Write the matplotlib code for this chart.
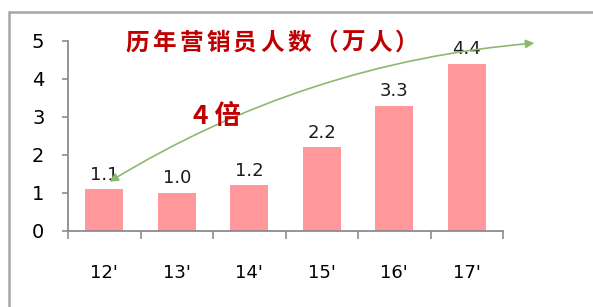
import matplotlib
matplotlib.use("Agg")
import matplotlib.pyplot as plt
from matplotlib.patches import FancyArrowPatch, Rectangle
import numpy as np

plt.rcParams['font.family'] = ['DejaVu Sans', 'Noto Sans CJK SC']

years = ["12'", "13'", "14'", "15'", "16'", "17'"]
agents = [1.1, 1.0, 1.2, 2.2, 3.3, 4.4]
title_text = "历年营销员人数（万人）"
growth_text = "4 倍"

bar_color = '#FF979B'
axis_gray = '#8C8C8C'
red = '#C00000'

fig = plt.figure(figsize=(5.93, 3.07), dpi=100)
ax = fig.add_axes([68 / 593, 1 - 231 / 307, 435 / 593, 190 / 307])

x = np.arange(len(years))
ax.bar(x, agents, width=0.53, color=bar_color, zorder=2)
for xi, v in zip(x, agents):
    ax.annotate(f"{v:.1f}", (xi, v), xytext=(0, 4), textcoords='offset points',
                ha='center', va='bottom', fontsize=13, color='#1a1a1a')

ax.set_xlim(-0.5, len(years) - 0.5)
ax.set_ylim(0, 5)
ax.set_yticks(range(0, 6))
ax.tick_params(axis='y', length=4, width=1.2, color=axis_gray, pad=13, labelsize=14)
ax.set_xticks(x)
ax.set_xticklabels(years)
ax.tick_params(axis='x', which='major', length=0, pad=24, labelsize=13)
ax.set_xticks(np.arange(-0.5, len(years)), minor=True)
ax.tick_params(axis='x', which='minor', length=6, width=1.2, color=axis_gray)
for s in ['top', 'right']:
    ax.spines[s].set_visible(False)
for s in ['left', 'bottom']:
    ax.spines[s].set_color(axis_gray)
    ax.spines[s].set_linewidth(1.3)

# growth arrow from first to last bar
arrow = FancyArrowPatch((0.04, 1.26), (5.97, 4.95), connectionstyle="arc3,rad=-0.12",
                        arrowstyle='<|-|>,head_length=5,head_width=2.5',
                        color='#8DB86E', lw=1.2, clip_on=False, zorder=3)
ax.add_patch(arrow)

# title, spaced out character by character like the original
for i, ch in enumerate(title_text):
    fig.text((137 + i * 27) / 593, 1 - 43 / 307, ch, family=['Noto Sans CJK SC'],
             fontsize=17, fontweight='bold', color=red, ha='center', va='center')
fig.text(193 / 593, 1 - 117 / 307, growth_text, family=['Noto Sans CJK SC'],
         fontsize=19, fontweight='bold', color=red, ha='left', va='center')

# outer frame
fig.patches.append(Rectangle((9 / 593, -0.1), 1.2, 1 - 12 / 307 + 0.1,
                             transform=fig.transFigure, fill=False,
                             edgecolor='#A6A6A6', lw=1.8))

fig.savefig('out.png', dpi=100)
